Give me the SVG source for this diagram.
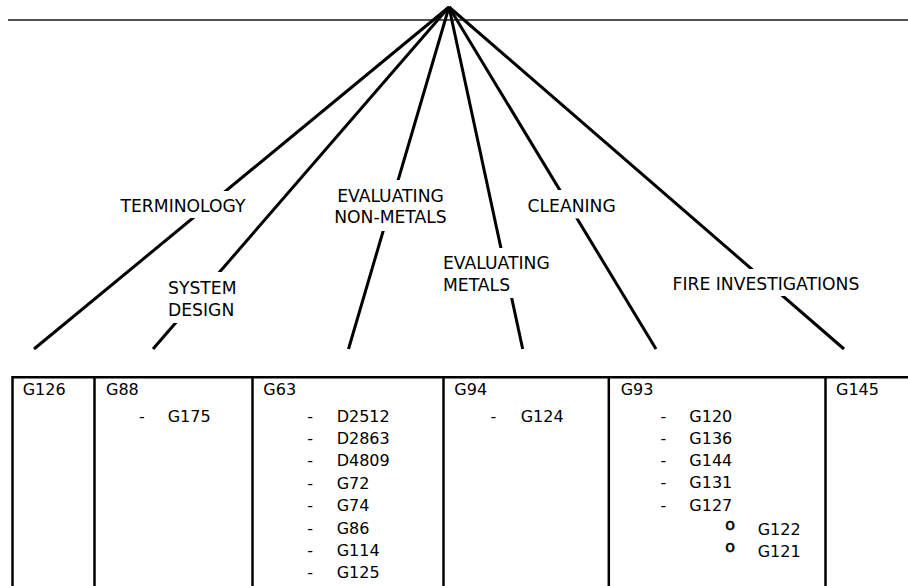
<svg xmlns="http://www.w3.org/2000/svg" width="908" height="586" viewBox="0 0 908 586">
<style>
  .conn { stroke: #000; stroke-width: 3; fill: none; stroke-linecap: butt; }
  .top { stroke: #1a1a1a; stroke-width: 1.6; }
  .lbl { font-family: "DejaVu Sans", "Liberation Sans", sans-serif; font-size: 17.2px; fill: #000; }
  .cell { font-family: "DejaVu Sans", "Liberation Sans", sans-serif; font-size: 16px; fill: #000; }
  .mask { fill: #fff; }
  .grid { stroke: #000; stroke-width: 2.5; fill: none; }
  .bul { font-family: "Liberation Mono", "DejaVu Sans Mono", monospace; font-size: 17px; fill: #000; stroke: #000; stroke-width: 0.6; }
</style>
<rect width="908" height="586" fill="#fff"/>
<line class="top" x1="8" y1="20" x2="908" y2="20"/>
<g id="connectors">
  <line class="conn" x1="449" y1="7" x2="34" y2="349"/>
  <line class="conn" x1="449" y1="7" x2="153" y2="349"/>
  <line class="conn" x1="449" y1="7" x2="348.5" y2="349"/>
  <line class="conn" x1="449" y1="7" x2="522.7" y2="349"/>
  <line class="conn" x1="449" y1="7" x2="656" y2="349"/>
  <line class="conn" x1="449" y1="7" x2="844" y2="349"/>
</g>
<g id="label-terminology">
  <rect class="mask" x="116" y="191" width="134" height="27"/>
  <text class="lbl" x="120.5" y="212.3">TERMINOLOGY</text>
</g>
<g id="label-system-design">
  <rect class="mask" x="164" y="272" width="74" height="51"/>
  <text class="lbl" x="168" y="294">SYSTEM</text>
  <text class="lbl" x="168" y="315.7">DESIGN</text>
</g>
<g id="label-evaluating-non-metals">
  <rect class="mask" x="332" y="180" width="117" height="51"/>
  <text class="lbl" x="390.5" y="201.7" text-anchor="middle">EVALUATING</text>
  <text class="lbl" x="390.5" y="223.3" text-anchor="middle">NON-METALS</text>
</g>
<g id="label-evaluating-metals">
  <rect class="mask" x="439" y="248" width="114" height="50"/>
  <text class="lbl" x="443" y="269.3">EVALUATING</text>
  <text class="lbl" x="443" y="291">METALS</text>
</g>
<g id="label-cleaning">
  <rect class="mask" x="523" y="190" width="95" height="28.5"/>
  <text class="lbl" x="527.5" y="212.3">CLEANING</text>
</g>
<g id="label-fire-investigations">
  <rect class="mask" x="668" y="269" width="199" height="27"/>
  <text class="lbl" x="672.5" y="290">FIRE INVESTIGATIONS</text>
</g>
<g id="table-grid">
  <line class="grid" x1="12" y1="377.3" x2="908" y2="377.3"/>
  <line class="grid" x1="12.5" y1="376" x2="12.5" y2="586"/>
  <line class="grid" x1="94.5" y1="376" x2="94.5" y2="586"/>
  <line class="grid" x1="252.5" y1="376" x2="252.5" y2="586"/>
  <line class="grid" x1="443.5" y1="376" x2="443.5" y2="586"/>
  <line class="grid" x1="608.8" y1="376" x2="608.8" y2="586"/>
  <line class="grid" x1="825.5" y1="376" x2="825.5" y2="586"/>
</g>
<g id="col-g126">
  <text class="cell" x="22.7" y="395">G126</text>
</g>
<g id="col-g88">
  <text class="cell" x="106" y="395">G88</text>
  <text class="cell" x="139" y="421.7">-</text>
  <text class="cell" x="167.7" y="421.7">G175</text>
</g>
<g id="col-g63">
  <text class="cell" x="263.3" y="395">G63</text>
  <text class="cell" x="307.3" y="421.7">-</text><text class="cell" x="336.7" y="421.7">D2512</text>
  <text class="cell" x="307.3" y="444.1">-</text><text class="cell" x="336.7" y="444.1">D2863</text>
  <text class="cell" x="307.3" y="466.4">-</text><text class="cell" x="336.7" y="466.4">D4809</text>
  <text class="cell" x="307.3" y="488.8">-</text><text class="cell" x="336.7" y="488.8">G72</text>
  <text class="cell" x="307.3" y="511.2">-</text><text class="cell" x="336.7" y="511.2">G74</text>
  <text class="cell" x="307.3" y="533.5">-</text><text class="cell" x="336.7" y="533.5">G86</text>
  <text class="cell" x="307.3" y="555.9">-</text><text class="cell" x="336.7" y="555.9">G114</text>
  <text class="cell" x="307.3" y="578.3">-</text><text class="cell" x="336.7" y="578.3">G125</text>
</g>
<g id="col-g94">
  <text class="cell" x="454.3" y="395">G94</text>
  <text class="cell" x="490.5" y="421.7">-</text>
  <text class="cell" x="520.7" y="421.7">G124</text>
</g>
<g id="col-g93">
  <text class="cell" x="620.7" y="395">G93</text>
  <text class="cell" x="660.5" y="421.7">-</text><text class="cell" x="689.3" y="421.7">G120</text>
  <text class="cell" x="660.5" y="443.9">-</text><text class="cell" x="689.3" y="443.9">G136</text>
  <text class="cell" x="660.5" y="466.1">-</text><text class="cell" x="689.3" y="466.1">G144</text>
  <text class="cell" x="660.5" y="488.3">-</text><text class="cell" x="689.3" y="488.3">G131</text>
  <text class="cell" x="660.5" y="510.5">-</text><text class="cell" x="689.3" y="510.5">G127</text>
  <text class="bul" x="724.9" y="530">o</text><text class="cell" x="757.7" y="535">G122</text>
  <text class="bul" x="724.9" y="552">o</text><text class="cell" x="757.7" y="557">G121</text>
</g>
<g id="col-g145">
  <text class="cell" x="836" y="395">G145</text>
</g>
</svg>
